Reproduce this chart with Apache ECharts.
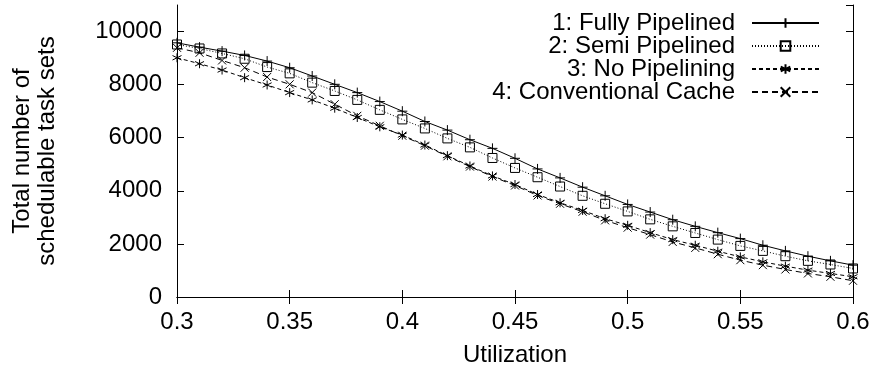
<!DOCTYPE html>
<html>
<head>
<meta charset="utf-8">
<script src="https://cdn.jsdelivr.net/npm/echarts@6/dist/echarts.min.js"></script>
<style>
  html, body { margin: 0; padding: 0; background: #fff; }
  #main { width: 873px; height: 375px; }
</style>
</head>
<body>
<div id="main"></div>
<script>
var utilization = [0.30, 0.31, 0.32, 0.33, 0.34, 0.35, 0.36, 0.37, 0.38, 0.39, 0.40,
  0.41, 0.42, 0.43, 0.44, 0.45, 0.46, 0.47, 0.48, 0.49, 0.50,
  0.51, 0.52, 0.53, 0.54, 0.55, 0.56, 0.57, 0.58, 0.59, 0.60];

var fullyPipelined = [9575, 9412, 9262, 9100, 8887, 8637, 8325, 8012, 7700, 7362, 7000,
  6612, 6287, 5925, 5600, 5225, 4825, 4487, 4137, 3812, 3487,
  3200, 2912, 2662, 2425, 2200, 1950, 1737, 1537, 1362, 1200];
var semiPipelined = [9512, 9362, 9175, 8975, 8662, 8425, 8075, 7762, 7425, 7050, 6690,
  6350, 5975, 5637, 5237, 4862, 4512, 4162, 3812, 3512, 3225,
  2925, 2662, 2412, 2162, 1925, 1737, 1537, 1362, 1225, 1075];
var noPipelining = [9012, 8787, 8550, 8262, 7987, 7700, 7425, 7112, 6762, 6412, 6100,
  5725, 5325, 4937, 4562, 4237, 3862, 3550, 3262, 2950, 2700,
  2425, 2162, 1950, 1725, 1512, 1325, 1162, 1012, 887, 762];
var conventionalCache = [9387, 9200, 8912, 8637, 8287, 8012, 7700, 7262, 6825, 6450, 6075,
  5700, 5300, 4912, 4537, 4200, 3825, 3512, 3212, 2887, 2612,
  2350, 2075, 1850, 1612, 1387, 1200, 1037, 887, 762, 612];

var seriesNames = ['1: Fully Pipelined', '2: Semi Pipelined', '3: No Pipelining', '4: Conventional Cache'];

var font = 'Liberation Sans, Arial, sans-serif';
var fs = 24;

function pairs(ys) {
  return utilization.map(function (x, i) { return [x, ys[i]]; });
}

function mkSeries(name, ys, symbol, size, dash) {
  return {
    name: name,
    type: 'line',
    data: pairs(ys),
    symbol: symbol,
    symbolSize: size,
    showAllSymbol: true,
    color: '#000',
    lineStyle: { color: '#000', width: 1, type: dash },
    itemStyle: { color: 'none', borderColor: '#000', borderWidth: 1 },
    emphasis: { disabled: true },
    animation: false
  };
}

var chart = echarts.init(document.getElementById('main'));

var tickStyle = { show: true, inside: true, length: 7, lineStyle: { color: '#000', width: 1 } };
var lineStyle = { show: true, lineStyle: { color: '#000', width: 1 } };

chart.setOption({
  animation: false,
  backgroundColor: '#fff',
  textStyle: { fontFamily: font, color: '#000' },
  grid: { left: 177, right: 20, top: 5, bottom: 78, containLabel: false },
  legend: {
    orient: 'vertical',
    right: 48,
    top: 6,
    align: 'right',
    itemWidth: 67,
    itemHeight: 12,
    itemGap: -1,
    data: seriesNames,
    // wider gap between label and sample line, like gnuplot
    formatter: function (n) { return n + '\u2002'; },
    textStyle: { fontSize: fs, lineHeight: 22, color: '#000', fontFamily: font }
  },
  xAxis: [{
    type: 'value',
    min: 0.3,
    max: 0.6,
    interval: 0.05,
    name: 'Utilization',
    nameLocation: 'middle',
    nameGap: 46,
    nameTextStyle: { fontSize: fs, color: '#000', fontFamily: font },
    axisLine: lineStyle,
    axisTick: tickStyle,
    splitLine: { show: false },
    axisLabel: {
      fontSize: fs, color: '#000', margin: 13, fontFamily: font,
      formatter: function (v) { return String(+v.toFixed(2)); }
    }
  }, {
    type: 'value',
    position: 'top',
    min: 0.3,
    max: 0.6,
    interval: 0.05,
    axisLine: lineStyle,
    axisTick: tickStyle,
    splitLine: { show: false },
    axisLabel: { show: false }
  }],
  yAxis: [{
    type: 'value',
    min: 0,
    max: 11000,
    interval: 2000,
    name: 'Total number of\nschedulable task sets',
    nameLocation: 'middle',
    nameRotate: 90,
    nameGap: 117,
    nameTextStyle: { fontSize: fs, lineHeight: 25, color: '#000', fontFamily: font, align: 'center' },
    axisLine: lineStyle,
    axisTick: tickStyle,
    splitLine: { show: false },
    axisLabel: {
      fontSize: fs, color: '#000', margin: 15, fontFamily: font, showMaxLabel: false,
      formatter: function (v) { return String(v); }
    }
  }, {
    type: 'value',
    position: 'right',
    min: 0,
    max: 11000,
    interval: 2000,
    axisLine: lineStyle,
    axisTick: tickStyle,
    splitLine: { show: false },
    axisLabel: { show: false }
  }],
  series: [
    mkSeries(seriesNames[0], fullyPipelined, 'path://M5,0L5,10M0,5L10,5', 10, 'solid'),
    mkSeries(seriesNames[1], semiPipelined, 'path://M0,0L10,0L10,10L0,10Z', 9, [1, 2]),
    mkSeries(seriesNames[2], noPipelining, 'path://M5,0L5,10M0.7,2.5L9.3,7.5M0.7,7.5L9.3,2.5', 9, [4, 3]),
    mkSeries(seriesNames[3], conventionalCache, 'path://M0,0L8,8M0,8L8,0', 8, [6, 4])
  ]
});
</script>
</body>
</html>
